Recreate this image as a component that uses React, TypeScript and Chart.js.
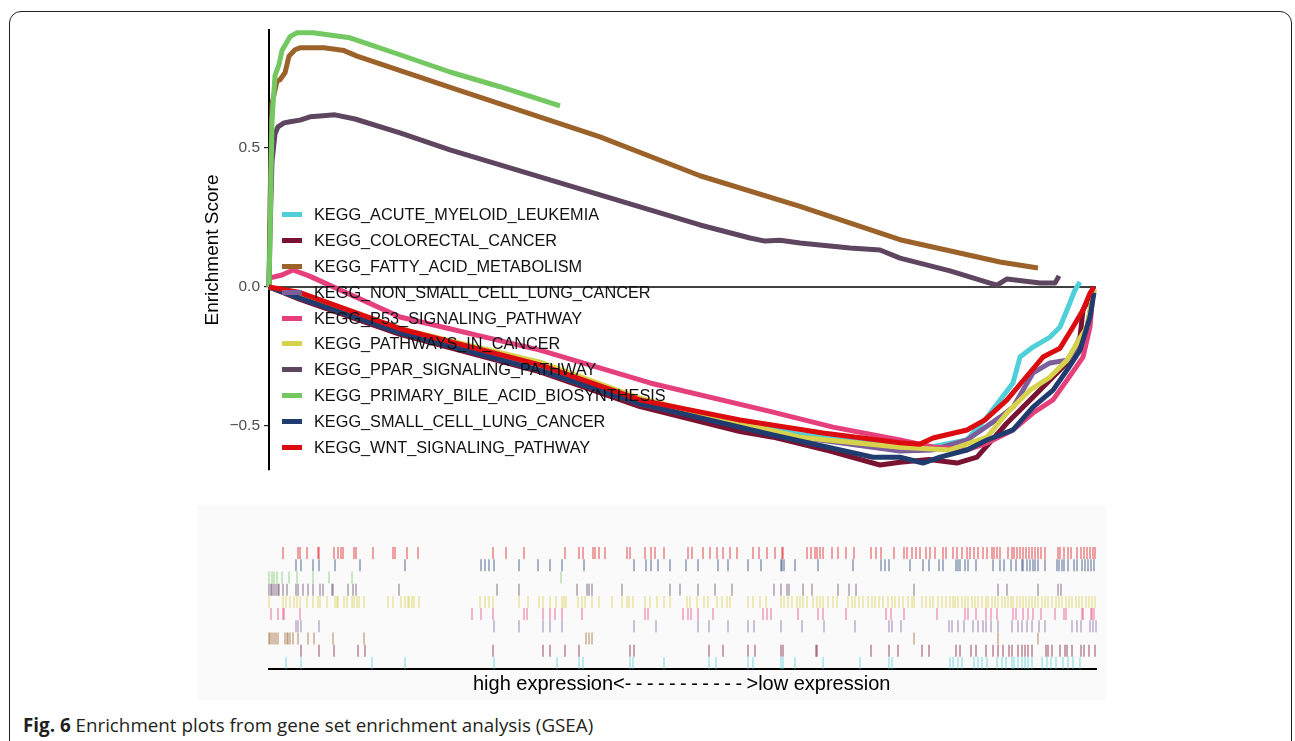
import React, { useEffect, useRef } from "react";
import { Chart, registerables } from "chart.js";
Chart.register(...registerables);

const FONT = '"Liberation Sans", Arial, sans-serif';

// gene sets (legend order)
const setNames = [
  "KEGG_ACUTE_MYELOID_LEUKEMIA",
  "KEGG_COLORECTAL_CANCER",
  "KEGG_FATTY_ACID_METABOLISM",
  "KEGG_NON_SMALL_CELL_LUNG_CANCER",
  "KEGG_P53_SIGNALING_PATHWAY",
  "KEGG_PATHWAYS_IN_CANCER",
  "KEGG_PPAR_SIGNALING_PATHWAY",
  "KEGG_PRIMARY_BILE_ACID_BIOSYNTHESIS",
  "KEGG_SMALL_CELL_LUNG_CANCER",
  "KEGG_WNT_SIGNALING_PATHWAY",
];
const setColors = [
  "#4fcfd8", "#7a1232", "#9b6229", "#7b5e9a", "#e6407c",
  "#d7d24c", "#5e4560", "#73c862", "#203c6e", "#dc0b10",
];

const rankMax = 827;
const yMin = -0.658;
const yMax = 0.924;
const yTicks = [-0.5, 0, 0.5];
const yAxisLabel = "Enrichment Score";
const xLabelLeft = "high expression<";
const xLabelDashes = "-----------";
const xLabelRight = ">low expression";

// running enrichment score curves: [rank, ES]
const esACUTE: [number, number][] = [[0,0],[31,-0.035],[131,-0.16],[271,-0.29],[371,-0.415],[471,-0.49],[531,-0.53],[631,-0.565],[661,-0.576],[698,-0.55],[718,-0.468],[744,-0.345],[751,-0.252],[764,-0.216],[781,-0.18],[791,-0.144],[798,-0.083],[806,-0.011],[811,0.018]];
const esCOLORECTAL: [number, number][] = [[0,0],[31,-0.045],[131,-0.17],[271,-0.305],[371,-0.43],[471,-0.52],[504,-0.54],[561,-0.59],[611,-0.64],[631,-0.63],[660,-0.62],[688,-0.633],[708,-0.612],[738,-0.489],[764,-0.396],[784,-0.324],[799,-0.27],[811,-0.18],[814,-0.083],[825,-0.01]];
const esFATTY: [number, number][] = [[0,0],[1,0.3],[3,0.66],[8,0.74],[11,0.745],[16,0.77],[20,0.83],[26,0.853],[31,0.86],[55,0.86],[75,0.85],[88,0.83],[188,0.71],[331,0.54],[431,0.40],[531,0.29],[631,0.17],[731,0.09],[769,0.068]];
const esNSCLC: [number, number][] = [[0,0],[31,-0.04],[131,-0.16],[271,-0.3],[371,-0.42],[471,-0.5],[531,-0.54],[631,-0.59],[664,-0.586],[698,-0.55],[731,-0.468],[744,-0.432],[764,-0.309],[781,-0.273],[798,-0.263],[808,-0.227],[818,-0.144],[825,-0.01]];
const esP53: [number, number][] = [[0,0.032],[13,0.043],[24,0.061],[40,0.04],[131,-0.108],[271,-0.227],[381,-0.345],[504,-0.45],[564,-0.504],[631,-0.55],[664,-0.575],[698,-0.586],[718,-0.561],[744,-0.514],[764,-0.453],[784,-0.406],[798,-0.335],[814,-0.252],[821,-0.144],[824,-0.022],[825,-0.01]];
const esPATHWAYS: [number, number][] = [[0,0],[31,-0.025],[131,-0.15],[271,-0.27],[371,-0.4],[471,-0.49],[531,-0.54],[631,-0.576],[681,-0.586],[718,-0.54],[738,-0.453],[761,-0.371],[781,-0.324],[798,-0.263],[808,-0.201],[818,-0.144],[825,-0.01]];
const esPPAR: [number, number][] = [[0,0],[1,0.2],[3,0.45],[6,0.55],[9,0.576],[15,0.59],[21,0.594],[31,0.6],[41,0.612],[51,0.615],[66,0.619],[86,0.604],[131,0.554],[181,0.493],[231,0.439],[291,0.374],[331,0.331],[381,0.277],[431,0.223],[481,0.176],[496,0.165],[511,0.168],[531,0.158],[581,0.14],[611,0.133],[631,0.104],[681,0.058],[721,0.014],[728,0.007],[738,0.029],[771,0.014],[786,0.014],[790,0.04]];
const esBILE: [number, number][] = [[0,0],[1,0.18],[3,0.6],[6,0.76],[10,0.8],[13,0.85],[21,0.9],[28,0.914],[44,0.914],[81,0.896],[131,0.835],[181,0.773],[231,0.72],[291,0.651]];
const esSCLC: [number, number][] = [[0,0],[31,-0.04],[131,-0.165],[271,-0.3],[371,-0.42],[504,-0.532],[604,-0.612],[631,-0.612],[654,-0.633],[671,-0.612],[698,-0.586],[718,-0.55],[744,-0.514],[764,-0.432],[784,-0.371],[798,-0.299],[811,-0.227],[821,-0.108],[825,-0.02]];
const esWNT: [number, number][] = [[0,0],[31,-0.02],[131,-0.15],[271,-0.28],[371,-0.406],[471,-0.478],[554,-0.525],[631,-0.56],[651,-0.565],[664,-0.543],[698,-0.514],[716,-0.478],[738,-0.406],[758,-0.32],[774,-0.252],[791,-0.22],[804,-0.144],[814,-0.083],[821,-0.022],[825,0]];

// hit positions (gene ranks) for the barcode panel
const hitsACUTE = [17,32,103,136,225,288,310,314,361,364,395,440,447,479,484,512,514,526,554,591,620,623,681,684,689,693,705,709,713,718,728,733,737,743,745,749,753,756,759,763,773,778,782,787,794,799,804,811];
const hitsCOLORECTAL = [32,50,65,89,96,224,274,281,296,310,361,365,440,454,479,486,512,514,547,548,602,620,629,653,660,687,691,702,707,717,724,729,734,740,743,749,753,756,759,763,777,779,783,791,796,798,803,812,815,820,826];
const hitsFATTY = [0,1,3,5,7,9,16,18,19,21,24,29,39,45,64,95,317,320,323,645,729,769];
const hitsNSCLC = [27,29,32,50,225,250,274,281,293,365,387,429,440,459,479,485,512,533,555,586,620,623,632,680,683,689,695,704,709,714,717,722,729,743,749,753,758,763,770,776,803,808,812,821,824,827];
const hitsP53 = [2,9,14,15,31,203,212,224,255,258,274,281,286,293,313,376,379,414,419,422,429,444,494,498,502,529,549,554,577,617,622,635,668,696,699,707,717,722,728,744,747,754,759,764,772,786,795,797,813,814,822,823,825];
const hitsPATHWAYS = [0,14,17,21,25,28,31,38,44,49,51,58,66,68,69,75,78,83,85,88,90,95,119,124,132,136,139,140,143,145,150,211,216,220,224,250,259,270,274,281,287,293,295,297,309,313,316,323,330,343,353,358,360,364,376,381,388,395,401,418,421,428,435,439,448,453,458,461,479,484,491,497,512,515,519,523,528,531,534,538,544,548,551,554,559,564,568,579,583,586,590,594,599,603,606,610,614,619,623,626,630,634,639,643,645,653,657,661,664,669,673,677,681,684,686,689,693,696,699,703,706,709,713,717,719,723,726,729,733,736,739,742,744,748,751,754,757,760,763,766,769,773,776,779,783,787,790,793,797,800,803,807,810,813,817,820,823,826];
const hitsPPAR = [0,2,3,5,7,9,10,14,18,27,29,34,39,44,51,54,63,64,79,84,87,130,228,250,308,318,320,323,353,401,411,429,446,463,505,512,518,520,534,543,569,580,587,645,729,738,769,789,792];
const hitsBILE = [0,3,5,8,13,20,28,44,60,83,292];
const hitsSCLC = [27,32,44,50,66,91,136,212,216,220,225,250,269,281,293,315,365,377,382,389,401,417,429,449,459,479,492,512,513,515,526,549,584,612,616,620,641,654,660,670,674,687,689,691,696,699,707,724,731,735,742,747,753,754,758,761,764,766,769,776,788,790,793,795,799,805,808,813,816,819,822,825];
const hitsWNT = [14,29,31,38,49,50,65,69,72,74,85,87,104,124,126,138,149,224,237,255,296,310,314,324,326,330,336,358,361,376,382,386,395,419,423,434,441,448,454,461,468,484,490,498,506,513,514,538,542,546,548,551,554,563,569,577,585,602,607,612,625,635,638,643,647,651,657,661,666,674,677,684,688,693,698,701,705,709,714,718,723,725,728,731,739,743,745,748,751,754,757,760,763,766,769,772,776,789,791,795,799,802,808,812,815,818,821,824,826];

const curves = [esACUTE, esCOLORECTAL, esFATTY, esNSCLC, esP53, esPATHWAYS, esPPAR, esBILE, esSCLC, esWNT];
const hits = [hitsACUTE, hitsCOLORECTAL, hitsFATTY, hitsNSCLC, hitsP53, hitsPATHWAYS, hitsPPAR, hitsBILE, hitsSCLC, hitsWNT];

function alpha(hex: string, a: number) {
  const n = parseInt(hex.slice(1), 16);
  return `rgba(${(n >> 16) & 255},${(n >> 8) & 255},${n & 255},${a})`;
}

export default function App() {
  const topRef = useRef<HTMLCanvasElement>(null);
  const botRef = useRef<HTMLCanvasElement>(null);

  useEffect(() => {
    const top = new Chart(topRef.current!, {
      type: "line",
      data: {
        datasets: [
          ...curves.map((c, i) => ({
            label: setNames[i],
            data: c.map(([x, y]) => ({ x, y })),
            borderColor: setColors[i],
            backgroundColor: setColors[i],
            borderWidth: 5,
            pointRadius: 0,
            fill: false,
            tension: 0,
            borderJoinStyle: "round" as const,
            clip: false as any,
            order: 10 - i,
          })),
          {
            label: "zero",
            data: [{ x: 0, y: 0 }, { x: rankMax, y: 0 }],
            borderColor: "#000",
            borderWidth: 1.5,
            pointRadius: 0,
            fill: false,
            order: 20,
          },
        ],
      },
      options: {
        animation: false,
        responsive: false,
        events: [],
        layout: { padding: { left: 190, top: 30, right: 199, bottom: 30 } },
        plugins: { legend: { display: false }, tooltip: { enabled: false } },
        scales: {
          x: { type: "linear", min: 0, max: rankMax, display: false },
          y: {
            type: "linear",
            min: yMin,
            max: yMax,
            afterFit: (s: any) => { s.width = 79; },
            afterBuildTicks: (s: any) => { s.ticks = yTicks.map((v) => ({ value: v })); },
            ticks: {
              callback: (v: any) => Number(v).toFixed(1).replace("-", "\u2212"),
              font: { family: FONT, size: 15.5 },
              color: "#4d4d4d",
              padding: 4,
            },
            grid: { drawOnChartArea: false, tickLength: 5, color: "#222", lineWidth: 1.2 },
            border: { display: true, color: "#000", width: 2 },
            title: {
              display: true,
              text: yAxisLabel,
              font: { family: FONT, size: 19 },
              color: "#000",
              padding: { top: 11, bottom: 0 },
            },
          },
        },
      },
    } as any);

    const bot = new Chart(botRef.current!, {
      type: "scatter",
      data: {
        datasets: hits.map((h, i) => ({
          label: setNames[i],
          data: h.map((r) => ({ x: r, y: i + 0.5 })),
          pointStyle: "line",
          pointRotation: 90,
          pointRadius: 6,
          pointBorderWidth: 1.5,
          pointBorderColor: alpha(setColors[i], 0.5),
          pointBackgroundColor: alpha(setColors[i], 0.5),
          showLine: false,
          clip: false as any,
        })),
      },
      options: {
        animation: false,
        responsive: false,
        events: [],
        layout: { padding: { left: 72, right: 10, top: 41, bottom: 6 } },
        plugins: { legend: { display: false }, tooltip: { enabled: false } },
        scales: {
          x: {
            type: "linear",
            min: 0,
            max: rankMax,
            afterFit: (s: any) => { s.height = 25; },
            ticks: { display: false },
            grid: { display: false },
            border: { display: true, color: "#000", width: 2 },
          },
          y: { type: "linear", min: 0, max: 10, display: false },
        },
      },
    } as any);

    return () => {
      top.destroy();
      bot.destroy();
    };
  }, []);

  return (
    <div style={{ position: "absolute", left: 0, top: 0, width: 1295, height: 741, overflow: "hidden", background: "#fff" }}>
      <div style={{ position: "absolute", left: 9, top: 11, width: 1283, height: 780, border: "1.5px solid #231f20", borderRadius: 12, boxSizing: "border-box" }} />
      <canvas ref={topRef} width={1295} height={500} style={{ position: "absolute", left: 0, top: 0 }} />
      <canvas ref={botRef} width={909} height={194} style={{ position: "absolute", left: 197, top: 506, background: "#fafafa" }} />
      <div style={{ position: "absolute", left: 282, top: 202, fontFamily: FONT, fontSize: 16.3, color: "#111" }}>
        {setNames.map((n, i) => (
          <div key={n} style={{ display: "flex", alignItems: "center", height: 25.8 }}>
            <div style={{ width: 20, height: 5, background: setColors[i], marginRight: 12 }} />
            <span style={{ whiteSpace: "nowrap" }}>{n}</span>
          </div>
        ))}
      </div>
      <div style={{ position: "absolute", left: 473, top: 671, fontFamily: FONT, fontSize: 20, lineHeight: "24px", color: "#000", whiteSpace: "nowrap" }}>
        {xLabelLeft}
        <span style={{ letterSpacing: 4.4 }}>{xLabelDashes}</span>
        {xLabelRight}
      </div>
      <div style={{ position: "absolute", left: 23, top: 713, fontFamily: '"Open Sans", sans-serif', fontSize: 18.8, lineHeight: "24px", color: "#231f20", whiteSpace: "nowrap" }}>
        <b>Fig. 6</b> Enrichment plots from gene set enrichment analysis (GSEA)
      </div>
    </div>
  );
}
